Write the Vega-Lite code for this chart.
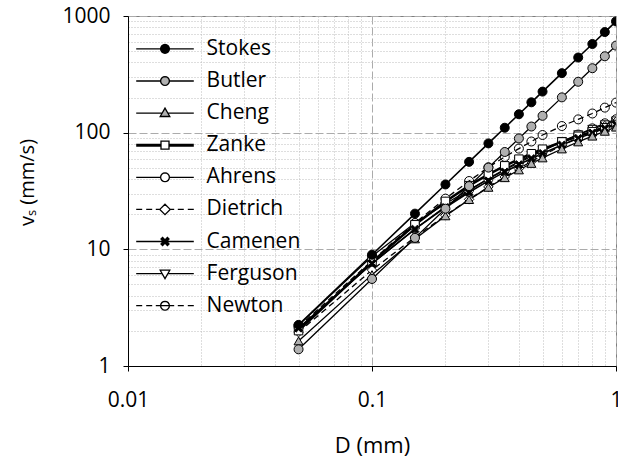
{
  "$schema": "https://vega.github.io/schema/vega-lite/v6.json",
  "width": 488,
  "height": 350,
  "autosize": {"type": "none"},
  "padding": {"left": 128, "top": 16, "right": 2, "bottom": 93},
  "background": "white",
  "config": {
    "view": {"stroke": "#7f7f7f", "strokeWidth": 1},
    "axis": {
      "labelFont": "Open Sans", "labelFontSize": 21, "labelColor": "black",
      "titleFont": "Open Sans", "titleFontSize": 21, "titleFontWeight": "normal", "titleColor": "black",
      "domainColor": "black", "domainWidth": 1, "tickColor": "black", "tickSize": 5, "tickWidth": 1,
      "labelOverlap": false, "labelFlush": false, "gridWidth": 1
    }
  },
  "data": {
    "values": [
      {"s": "Stokes", "D": 0.05, "v": 2.25}, {"s": "Stokes", "D": 0.1, "v": 8.99}, {"s": "Stokes", "D": 0.15, "v": 20.23}, {"s": "Stokes", "D": 0.2, "v": 35.97}, {"s": "Stokes", "D": 0.25, "v": 56.2}, {"s": "Stokes", "D": 0.3, "v": 80.93}, {"s": "Stokes", "D": 0.35, "v": 110.2}, {"s": "Stokes", "D": 0.4, "v": 143.9}, {"s": "Stokes", "D": 0.45, "v": 182.1}, {"s": "Stokes", "D": 0.5, "v": 224.8}, {"s": "Stokes", "D": 0.6, "v": 323.7}, {"s": "Stokes", "D": 0.7, "v": 440.6}, {"s": "Stokes", "D": 0.8, "v": 575.5}, {"s": "Stokes", "D": 0.9, "v": 728.4}, {"s": "Stokes", "D": 1.0, "v": 899.3},
      {"s": "Butler", "D": 0.05, "v": 1.39}, {"s": "Butler", "D": 0.1, "v": 5.57}, {"s": "Butler", "D": 0.15, "v": 12.54}, {"s": "Butler", "D": 0.2, "v": 22.3}, {"s": "Butler", "D": 0.25, "v": 34.84}, {"s": "Butler", "D": 0.3, "v": 50.18}, {"s": "Butler", "D": 0.35, "v": 68.3}, {"s": "Butler", "D": 0.4, "v": 89.2}, {"s": "Butler", "D": 0.45, "v": 112.9}, {"s": "Butler", "D": 0.5, "v": 139.4}, {"s": "Butler", "D": 0.6, "v": 200.7}, {"s": "Butler", "D": 0.7, "v": 273.2}, {"s": "Butler", "D": 0.8, "v": 356.8}, {"s": "Butler", "D": 0.9, "v": 451.6}, {"s": "Butler", "D": 1.0, "v": 557.6},
      {"s": "Cheng", "D": 0.05, "v": 1.64}, {"s": "Cheng", "D": 0.1, "v": 6.07}, {"s": "Cheng", "D": 0.15, "v": 12.28}, {"s": "Cheng", "D": 0.2, "v": 19.35}, {"s": "Cheng", "D": 0.25, "v": 26.69}, {"s": "Cheng", "D": 0.3, "v": 33.98}, {"s": "Cheng", "D": 0.35, "v": 41.08}, {"s": "Cheng", "D": 0.4, "v": 47.9}, {"s": "Cheng", "D": 0.45, "v": 54.45}, {"s": "Cheng", "D": 0.5, "v": 60.71}, {"s": "Cheng", "D": 0.6, "v": 72.45}, {"s": "Cheng", "D": 0.7, "v": 83.27}, {"s": "Cheng", "D": 0.8, "v": 93.3}, {"s": "Cheng", "D": 0.9, "v": 102.66}, {"s": "Cheng", "D": 1.0, "v": 111.46},
      {"s": "Zanke", "D": 0.05, "v": 2.01}, {"s": "Zanke", "D": 0.1, "v": 7.79}, {"s": "Zanke", "D": 0.15, "v": 16.23}, {"s": "Zanke", "D": 0.2, "v": 25.75}, {"s": "Zanke", "D": 0.25, "v": 35.14}, {"s": "Zanke", "D": 0.3, "v": 43.91}, {"s": "Zanke", "D": 0.35, "v": 51.94}, {"s": "Zanke", "D": 0.4, "v": 59.26}, {"s": "Zanke", "D": 0.45, "v": 65.97}, {"s": "Zanke", "D": 0.5, "v": 72.16}, {"s": "Zanke", "D": 0.6, "v": 83.28}, {"s": "Zanke", "D": 0.7, "v": 93.11}, {"s": "Zanke", "D": 0.8, "v": 101.98}, {"s": "Zanke", "D": 0.9, "v": 110.1}, {"s": "Zanke", "D": 1.0, "v": 117.62},
      {"s": "Ahrens", "D": 0.05, "v": 2.23}, {"s": "Ahrens", "D": 0.1, "v": 8.73}, {"s": "Ahrens", "D": 0.15, "v": 16.78}, {"s": "Ahrens", "D": 0.2, "v": 24.61}, {"s": "Ahrens", "D": 0.25, "v": 32.41}, {"s": "Ahrens", "D": 0.3, "v": 40.16}, {"s": "Ahrens", "D": 0.35, "v": 47.8}, {"s": "Ahrens", "D": 0.4, "v": 55.27}, {"s": "Ahrens", "D": 0.45, "v": 62.55}, {"s": "Ahrens", "D": 0.5, "v": 69.6}, {"s": "Ahrens", "D": 0.6, "v": 83.23}, {"s": "Ahrens", "D": 0.7, "v": 96.4}, {"s": "Ahrens", "D": 0.8, "v": 108.92}, {"s": "Ahrens", "D": 0.9, "v": 120.3}, {"s": "Ahrens", "D": 1.0, "v": 130.24},
      {"s": "Dietrich", "D": 0.05, "v": 1.95}, {"s": "Dietrich", "D": 0.1, "v": 6.64}, {"s": "Dietrich", "D": 0.15, "v": 12.73}, {"s": "Dietrich", "D": 0.2, "v": 19.56}, {"s": "Dietrich", "D": 0.25, "v": 26.81}, {"s": "Dietrich", "D": 0.3, "v": 34.25}, {"s": "Dietrich", "D": 0.35, "v": 41.76}, {"s": "Dietrich", "D": 0.4, "v": 49.23}, {"s": "Dietrich", "D": 0.45, "v": 56.61}, {"s": "Dietrich", "D": 0.5, "v": 63.83}, {"s": "Dietrich", "D": 0.6, "v": 77.71}, {"s": "Dietrich", "D": 0.7, "v": 90.69}, {"s": "Dietrich", "D": 0.8, "v": 102.68}, {"s": "Dietrich", "D": 0.9, "v": 113.69}, {"s": "Dietrich", "D": 1.0, "v": 123.69},
      {"s": "Camenen", "D": 0.05, "v": 2.11}, {"s": "Camenen", "D": 0.1, "v": 7.58}, {"s": "Camenen", "D": 0.15, "v": 14.88}, {"s": "Camenen", "D": 0.2, "v": 22.85}, {"s": "Camenen", "D": 0.25, "v": 30.86}, {"s": "Camenen", "D": 0.3, "v": 38.64}, {"s": "Camenen", "D": 0.35, "v": 46.1}, {"s": "Camenen", "D": 0.4, "v": 53.2}, {"s": "Camenen", "D": 0.45, "v": 59.95}, {"s": "Camenen", "D": 0.5, "v": 66.38}, {"s": "Camenen", "D": 0.6, "v": 78.34}, {"s": "Camenen", "D": 0.7, "v": 89.36}, {"s": "Camenen", "D": 0.8, "v": 99.54}, {"s": "Camenen", "D": 0.9, "v": 109.01}, {"s": "Camenen", "D": 1.0, "v": 117.97},
      {"s": "Ferguson", "D": 0.05, "v": 2.1}, {"s": "Ferguson", "D": 0.1, "v": 7.53}, {"s": "Ferguson", "D": 0.15, "v": 14.93}, {"s": "Ferguson", "D": 0.2, "v": 23.24}, {"s": "Ferguson", "D": 0.25, "v": 31.84}, {"s": "Ferguson", "D": 0.3, "v": 40.35}, {"s": "Ferguson", "D": 0.35, "v": 48.58}, {"s": "Ferguson", "D": 0.4, "v": 56.46}, {"s": "Ferguson", "D": 0.45, "v": 63.94}, {"s": "Ferguson", "D": 0.5, "v": 71.05}, {"s": "Ferguson", "D": 0.6, "v": 84.2}, {"s": "Ferguson", "D": 0.7, "v": 96.1}, {"s": "Ferguson", "D": 0.8, "v": 106.98}, {"s": "Ferguson", "D": 0.9, "v": 116.99}, {"s": "Ferguson", "D": 1.0, "v": 126.28},
      {"s": "Newton", "D": 0.05, "v": 2.16}, {"s": "Newton", "D": 0.1, "v": 8.0}, {"s": "Newton", "D": 0.15, "v": 16.8}, {"s": "Newton", "D": 0.2, "v": 27.2}, {"s": "Newton", "D": 0.25, "v": 38.5}, {"s": "Newton", "D": 0.3, "v": 50.5}, {"s": "Newton", "D": 0.35, "v": 62}, {"s": "Newton", "D": 0.4, "v": 73}, {"s": "Newton", "D": 0.45, "v": 84}, {"s": "Newton", "D": 0.5, "v": 95.5}, {"s": "Newton", "D": 0.6, "v": 114}, {"s": "Newton", "D": 0.7, "v": 130}, {"s": "Newton", "D": 0.8, "v": 146}, {"s": "Newton", "D": 0.9, "v": 164}, {"s": "Newton", "D": 1.0, "v": 181}
    ]
  },
  "encoding": {
    "x": {
      "field": "D", "type": "quantitative",
      "scale": {"type": "log", "domain": [0.01, 1], "nice": false},
      "axis": {
        "title": "D (mm)",
        "values": [0.01, 0.02, 0.03, 0.04, 0.05, 0.06, 0.07, 0.08, 0.09, 0.1, 0.2, 0.3, 0.4, 0.5, 0.6, 0.7, 0.8, 0.9, 1],
        "labelExpr": "datum.value == 0.01 ? '0.01' : datum.value == 0.1 ? '0.1' : datum.value == 1 ? '1' : ''",
        "grid": true,
        "gridDash": {"condition": {"test": "datum.value == 0.01 || datum.value == 0.1 || datum.value == 1", "value": [8, 3]}, "value": [1, 2]},
        "gridColor": {"condition": {"test": "datum.value == 0.01 || datum.value == 0.1 || datum.value == 1", "value": "#ababab"}, "value": "#bdbdbd"},
        "tickOpacity": {"condition": {"test": "datum.value == 0.01 || datum.value == 0.1 || datum.value == 1", "value": 1}, "value": 0},
        "labelBaseline": "alphabetic",
        "labelPadding": 35.7,
        "titleFontSize": 22,
        "titleBaseline": "alphabetic",
        "titleAlign": "center",
        "titleX": 244,
        "titleY": 86
      }
    },
    "y": {
      "field": "v", "type": "quantitative",
      "scale": {"type": "log", "domain": [1, 1000], "nice": false},
      "axis": {
        "title": "vₛ (mm/s)",
        "values": [1, 2, 3, 4, 5, 6, 7, 8, 9, 10, 20, 30, 40, 50, 60, 70, 80, 90, 100, 200, 300, 400, 500, 600, 700, 800, 900, 1000],
        "labelExpr": "datum.value == 1 ? '1' : datum.value == 10 ? '10' : datum.value == 100 ? '100' : datum.value == 1000 ? '1000' : ''",
        "grid": true,
        "gridDash": {"condition": {"test": "datum.value == 1 || datum.value == 10 || datum.value == 100 || datum.value == 1000", "value": [8, 3]}, "value": [1, 2]},
        "gridColor": {"condition": {"test": "datum.value == 1 || datum.value == 10 || datum.value == 100 || datum.value == 1000", "value": "#ababab"}, "value": "#bdbdbd"},
        "tickOpacity": {"condition": {"test": "datum.value == 1 || datum.value == 10 || datum.value == 100 || datum.value == 1000", "value": 1}, "value": 0},
        "labelPadding": 13,
        "labelBaseline": "middle",
        "titleFontSize": 20,
        "titleAngle": -90,
        "titleBaseline": "middle",
        "titleAlign": "center",
        "titleX": -100.5,
        "titleY": 166
      }
    }
  },
  "layer": [
    {
      "transform": [{"filter": {"field": "s", "oneOf": ["Butler", "Cheng", "Ahrens", "Ferguson"]}}],
      "mark": {"type": "line", "color": "black", "strokeWidth": 1.3, "clip": true},
      "encoding": {"detail": {"field": "s"}}
    },
    {
      "transform": [{"filter": {"field": "s", "oneOf": ["Dietrich", "Newton"]}}],
      "mark": {"type": "line", "color": "black", "strokeWidth": 1.3, "strokeDash": [6, 4], "clip": true},
      "encoding": {"detail": {"field": "s"}}
    },
    {
      "transform": [{"filter": {"field": "s", "oneOf": ["Stokes", "Camenen"]}}],
      "mark": {"type": "line", "color": "black", "strokeWidth": 1.6, "clip": true},
      "encoding": {"detail": {"field": "s"}}
    },
    {
      "transform": [{"filter": {"field": "s", "equal": "Zanke"}}],
      "mark": {"type": "line", "color": "black", "strokeWidth": 2.5, "clip": true},
      "encoding": {"detail": {"field": "s"}}
    },
    {
      "transform": [{"filter": {"field": "s", "equal": "Newton"}}],
      "mark": {"type": "point", "shape": "circle", "filled": true, "fill": "transparent", "size": 81, "stroke": "black", "strokeWidth": 1, "opacity": 1, "clip": true},
      "encoding": {}
    },
    {
      "transform": [{"filter": {"field": "s", "equal": "Ahrens"}}],
      "mark": {"type": "point", "shape": "circle", "filled": true, "fill": "white", "size": 81, "stroke": "black", "strokeWidth": 1, "opacity": 1, "clip": true},
      "encoding": {}
    },
    {
      "transform": [{"filter": {"field": "s", "equal": "Ferguson"}}],
      "mark": {"type": "point", "shape": "triangle-down", "filled": true, "fill": "white", "size": 81, "stroke": "black", "strokeWidth": 1, "opacity": 1, "clip": true},
      "encoding": {}
    },
    {
      "transform": [{"filter": {"field": "s", "equal": "Dietrich"}}],
      "mark": {"type": "point", "shape": "diamond", "filled": true, "fill": "white", "size": 90, "stroke": "black", "strokeWidth": 1, "opacity": 1, "clip": true},
      "encoding": {}
    },
    {
      "transform": [{"filter": {"field": "s", "equal": "Zanke"}}],
      "mark": {"type": "point", "shape": "square", "filled": true, "fill": "white", "size": 72, "stroke": "black", "strokeWidth": 1, "opacity": 1, "clip": true},
      "encoding": {}
    },
    {
      "transform": [{"filter": {"field": "s", "equal": "Camenen"}}],
      "mark": {"type": "point", "shape": "M0,-0.4L0.6,-1L1,-0.6L0.4,0L1,0.6L0.6,1L0,0.4L-0.6,1L-1,0.6L-0.4,0L-1,-0.6L-0.6,-1Z", "filled": true, "fill": "black", "size": 64, "stroke": "black", "strokeWidth": 1, "opacity": 1, "clip": true},
      "encoding": {}
    },
    {
      "transform": [{"filter": {"field": "s", "equal": "Cheng"}}],
      "mark": {"type": "point", "shape": "triangle-up", "filled": true, "fill": "#b0b0b0", "size": 81, "stroke": "black", "strokeWidth": 1, "opacity": 1, "clip": true},
      "encoding": {}
    },
    {
      "transform": [{"filter": {"field": "s", "equal": "Butler"}}],
      "mark": {"type": "point", "shape": "circle", "filled": true, "fill": "#b0b0b0", "size": 81, "stroke": "black", "strokeWidth": 1, "opacity": 1, "clip": true},
      "encoding": {}
    },
    {
      "transform": [{"filter": {"field": "s", "equal": "Stokes"}}],
      "mark": {"type": "point", "shape": "circle", "filled": true, "fill": "black", "size": 81, "stroke": "black", "strokeWidth": 1, "opacity": 1, "clip": true},
      "encoding": {}
    },
    {
      "mark": {"type": "point", "size": 81, "stroke": "black", "strokeWidth": 1.3, "opacity": 0, "clip": true},
      "encoding": {
        "fill": {
          "field": "s", "type": "nominal",
          "scale": {"domain": ["Stokes", "Butler", "Cheng", "Zanke", "Ahrens", "Dietrich", "Camenen", "Ferguson", "Newton"],
                    "range": ["black", "#b0b0b0", "#b0b0b0", "white", "white", "white", "black", "white", "transparent"]},
          "legend": {
            "title": null,
            "orient": "none",
            "legendX": 26.5,
            "legendY": 22.4,
            "padding": 0,
            "symbolSize": 64,
            "symbolOpacity": 1,
            "symbolStrokeWidth": 1.3,
            "symbolStrokeColor": "black",
            "symbolFillColor": "white",
            "labelOffset": 31.1,
            "rowPadding": 10.1,
            "labelFont": "Open Sans",
            "labelFontSize": 21,
            "labelColor": "black",
            "labelLimit": 300
          }
        },
        "shape": {
          "field": "s", "type": "nominal",
          "scale": {"domain": ["Stokes", "Butler", "Cheng", "Zanke", "Ahrens", "Dietrich", "Camenen", "Ferguson", "Newton"],
                    "range": [
                      "M-7.2,0L-1.1,0M1.1,0L7.2,0M1.1,0L1.016,0.421L0.778,0.778L0.421,1.016L0,1.1L-0.421,1.016L-0.778,0.778L-1.016,0.421L-1.1,0L-1.016,-0.421L-0.778,-0.778L-0.421,-1.016L0,-1.1L0.421,-1.016L0.778,-0.778L1.016,-0.421Z",
                      "M-7.2,0L-1.1,0M1.1,0L7.2,0M1.1,0L1.016,0.421L0.778,0.778L0.421,1.016L0,1.1L-0.421,1.016L-0.778,0.778L-1.016,0.421L-1.1,0L-1.016,-0.421L-0.778,-0.778L-0.421,-1.016L0,-1.1L0.421,-1.016L0.778,-0.778L1.016,-0.421Z",
                      "M-7.2,0L-0.71,0M0.71,0L7.2,0M0,-1.25L1.2,0.85L-1.2,0.85Z",
                      "M-7.2,-0.2L-1,-0.2M1,-0.2L7.2,-0.2M-7.2,0L-1,0M1,0L7.2,0M-7.2,0.2L-1,0.2M1,0.2L7.2,0.2M-1,-1L1,-1L1,1L-1,1Z",
                      "M-7.2,0L-1.1,0M1.1,0L7.2,0M1.1,0L1.016,0.421L0.778,0.778L0.421,1.016L0,1.1L-0.421,1.016L-0.778,0.778L-1.016,0.421L-1.1,0L-1.016,-0.421L-0.778,-0.778L-0.421,-1.016L0,-1.1L0.421,-1.016L0.778,-0.778L1.016,-0.421Z",
                      "M-7.2,0L-5.7,0M-4.7,0L-3.2,0M-2.3,0L-1.3,0M1.3,0L2.3,0M3.2,0L4.7,0M5.7,0L7.2,0M0,-1.3L1.3,0L0,1.3L-1.3,0Z",
                      "M-7.2,0L7.2,0M0,-0.4L0.6,-1L1,-0.6L0.4,0L1,0.6L0.6,1L0,0.4L-0.6,1L-1,0.6L-0.4,0L-1,-0.6L-0.6,-1Z",
                      "M-7.2,0L-0.71,0M0.71,0L7.2,0M0,1.25L1.2,-0.85L-1.2,-0.85Z",
                      "M-7.2,0L-5.7,0M-4.7,0L-3.2,0M-2.3,0L2.3,0M3.2,0L4.7,0M5.7,0L7.2,0M1.1,0L1.016,0.421L0.778,0.778L0.421,1.016L0,1.1L-0.421,1.016L-0.778,0.778L-1.016,0.421L-1.1,0L-1.016,-0.421L-0.778,-0.778L-0.421,-1.016L0,-1.1L0.421,-1.016L0.778,-0.778L1.016,-0.421Z"
                    ]},
          "legend": {
            "title": null,
            "orient": "none",
            "legendX": 26.5,
            "legendY": 22.4,
            "padding": 0,
            "symbolSize": 64,
            "symbolOpacity": 1,
            "symbolStrokeWidth": 1.3,
            "symbolStrokeColor": "black",
            "symbolFillColor": "white",
            "labelOffset": 31.1,
            "rowPadding": 10.1,
            "labelFont": "Open Sans",
            "labelFontSize": 21,
            "labelColor": "black",
            "labelLimit": 300
          }
        }
      }
    }
  ]
}
